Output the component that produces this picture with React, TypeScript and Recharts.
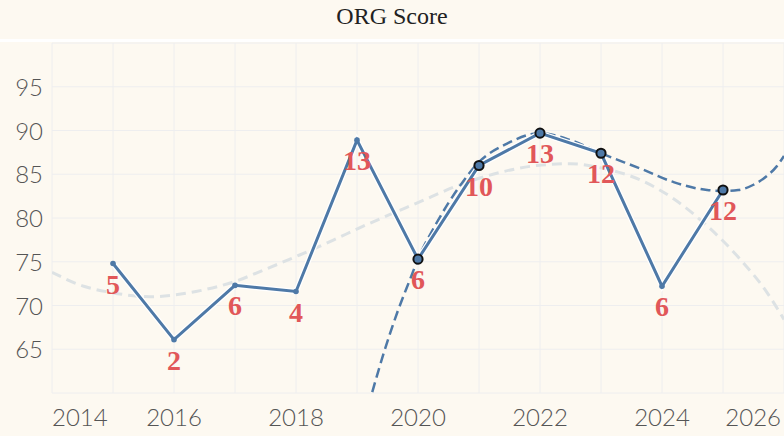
import { LineChart, Line, XAxis, YAxis, CartesianGrid, LabelList } from 'recharts'

const years = [2015, 2016, 2017, 2018, 2019, 2020, 2021, 2022, 2023, 2024, 2025]
const scores = [74.8, 66.1, 72.3, 71.6, 88.9, 75.3, 86.0, 89.7, 87.4, 72.2, 83.2]
const counts = [5, 2, 6, 4, 13, 6, 10, 13, 12, 6, 12]
const highlighted = [false, false, false, false, false, true, true, true, true, false, true]

// dashed blue trend
const trendYears = [2019.25, 2019.44, 2019.66, 2019.87, 2020, 2020.31, 2020.69, 2021, 2021.46, 2022, 2022.5, 2023, 2023.7, 2024.19, 2024.74, 2025, 2025.25, 2025.5, 2025.72, 2025.88, 2026]
const trendValues = [60.1, 64.6, 69.2, 73.0, 75.3, 79.5, 83.7, 86.4, 88.5, 89.7, 88.9, 87.4, 85.5, 84.1, 83.2, 83.1, 83.2, 83.8, 84.8, 85.9, 87.1]

// grey dashed long trend
const longYears = [2014, 2014.52, 2014.96, 2015.61, 2016, 2016.43, 2016.98, 2017.52, 2018.07, 2018.62, 2019.05, 2019.44, 2019.98, 2020.69, 2021.34, 2021.95, 2022.5, 2023.02, 2023.66, 2024.19, 2024.74, 2025.28, 2025.72, 2026]
const longValues = [73.8, 72.2, 71.5, 71.0, 71.2, 71.7, 72.7, 74.2, 75.8, 77.5, 78.9, 80.1, 81.7, 83.8, 85.2, 86.0, 86.2, 85.7, 84.3, 82.2, 79.1, 75.3, 71.5, 68.4]

const xTicks = [2014, 2015, 2016, 2017, 2018, 2019, 2020, 2021, 2022, 2023, 2024, 2025, 2026]
const yTicks = [60, 65, 70, 75, 80, 85, 90, 95, 100]

const BLUE = '#4e79a7'
const RED = '#e15759'
const BG = '#fdf9f1'

const rows = years.map((year, i) => ({ year, score: scores[i], count: counts[i], hi: highlighted[i] }))
const trendRows = trendYears.map((year, i) => ({ year, v: trendValues[i] }))
const longRows = longYears.map((year, i) => ({ year, v: longValues[i] }))

const tickFont = { fontFamily: 'Lato, "Open Sans", sans-serif', fontSize: 24, fontWeight: 300, fill: '#555' }

function XTick({ x, y, payload }: any) {
  const v = payload.value
  if (v % 2 !== 0) return <g />
  const anchor = v === 2014 ? 'start' : v === 2026 ? 'end' : 'middle'
  const dx = v === 2026 ? -3 : 0
  return (
    <text x={x + dx} y={y + 33} textAnchor={anchor} {...tickFont}>{v}</text>
  )
}

function YTick({ x, y, payload }: any) {
  const v = payload.value
  if (v === 60 || v === 100) return <g />
  return (
    <text x={x - 9} y={y + 9} textAnchor="end" {...tickFont}>{v}</text>
  )
}

function Dot({ cx, cy, payload, index }: any) {
  if (payload.hi) {
    return <circle key={`d${index}`} cx={cx} cy={cy} r={4.6} fill={BLUE} stroke="#111" strokeWidth={2} />
  }
  return <circle key={`d${index}`} cx={cx} cy={cy} r={2.8} fill={BLUE} />
}

function CountLabel({ x, y, value }: any) {
  return (
    <text
      x={x}
      y={y + 30}
      textAnchor="middle"
      fontFamily='"Liberation Serif", "Times New Roman", serif'
      fontWeight="bold"
      fontSize={28}
      fill={RED}
    >
      {value}
    </text>
  )
}

export default function App() {
  return (
    <div style={{ position: 'absolute', left: 0, top: 0, width: 784, height: 436, background: BG, overflow: 'hidden' }}>
      <svg width={784} height={43} style={{ position: 'absolute', left: 0, top: 0 }}>
        <text x={392} y={23.5} textAnchor="middle" fontFamily='"Liberation Serif", "Times New Roman", serif' fontSize={24} fill="#222">
          ORG Score
        </text>
        <rect x={0} y={39} width={784} height={3} fill="#ffffff" />
      </svg>
      <div style={{ position: 'absolute', left: 0, top: 0 }}>
        <LineChart width={784} height={436} data={rows} margin={{ top: 43, right: 0, bottom: 0, left: 0 }}>
          <CartesianGrid stroke="#eeeeef" strokeWidth={1} />
          <XAxis
            dataKey="year"
            type="number"
            domain={[2014, 2026]}
            ticks={xTicks}
            interval={0}
            allowDataOverflow
            height={43}
            axisLine={false}
            tickLine={false}
            tickSize={0}
            tickMargin={0}
            tick={<XTick />}
          />
          <YAxis
            type="number"
            domain={[60, 100]}
            ticks={yTicks}
            interval={0}
            allowDataOverflow
            width={52}
            axisLine={false}
            tickLine={false}
            tickSize={0}
            tickMargin={0}
            tick={<YTick />}
          />
          <Line
            data={longRows}
            dataKey="v"
            type="monotone"
            stroke="#dde2e4"
            strokeWidth={3}
            strokeDasharray="10 6"
            dot={false}
            activeDot={false}
            isAnimationActive={false}
          />
          <Line
            data={trendRows}
            dataKey="v"
            type="monotone"
            stroke={BLUE}
            strokeWidth={2.5}
            strokeDasharray="10 5"
            dot={false}
            activeDot={false}
            isAnimationActive={false}
          />
          <Line
            dataKey="score"
            type="linear"
            stroke="#ffffff"
            strokeWidth={5.5}
            dot={false}
            activeDot={false}
            isAnimationActive={false}
          />
          <Line
            dataKey="score"
            type="linear"
            stroke={BLUE}
            strokeWidth={3}
            dot={<Dot />}
            activeDot={false}
            isAnimationActive={false}
          >
            <LabelList dataKey="count" content={<CountLabel />} />
          </Line>
        </LineChart>
      </div>
    </div>
  )
}
